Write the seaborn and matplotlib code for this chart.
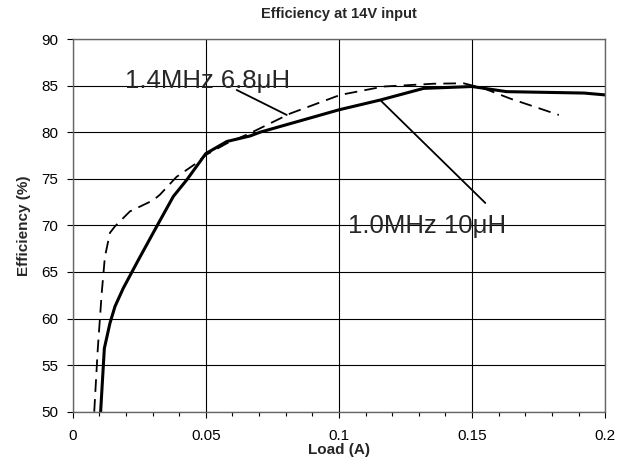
import numpy as np
import pandas as pd
import matplotlib
matplotlib.use("Agg")
import matplotlib.pyplot as plt
import seaborn as sns
from matplotlib.ticker import MultipleLocator

# 1.0MHz 10uH (solid)
load_10uh = [0.0105, 0.0119, 0.014, 0.0159, 0.019, 0.0247, 0.0316, 0.0378, 0.0429,
             0.05, 0.0579, 0.0667, 0.0704, 0.1, 0.1155, 0.1318, 0.15, 0.163, 0.192, 0.2]
eff_10uh = [50.0, 56.8, 59.5, 61.3, 63.25, 66.3, 69.9, 73.1, 74.9,
            77.7, 79.0, 79.6, 80.0, 82.4, 83.45, 84.7, 84.9, 84.35, 84.2, 84.0]

# 1.4MHz 6.8uH (dashed)
load_68uh = [0.0081, 0.0094, 0.0109, 0.0121, 0.014, 0.0159, 0.0215, 0.0303, 0.0328,
             0.039, 0.0466, 0.05, 0.0579, 0.0667, 0.0817, 0.1005, 0.1168, 0.1356,
             0.1468, 0.1544, 0.1644, 0.1826]
eff_68uh = [50.0, 56.6, 62.7, 66.6, 69.2, 69.9, 71.5, 72.7, 73.3,
            75.2, 76.7, 77.55, 78.8, 79.9, 82.0, 84.0, 84.9, 85.2,
            85.25, 84.7, 83.6, 81.85]

df_10 = pd.DataFrame({"load": load_10uh, "eff": eff_10uh})
df_68 = pd.DataFrame({"load": load_68uh, "eff": eff_68uh})

sns.set_style("ticks")
plt.rcParams["font.family"] = ["Liberation Sans", "DejaVu Sans"]

fig = plt.figure(figsize=(6.33, 4.66), dpi=100)
ax = fig.add_axes([0.1148, 0.1165, 0.8412, 0.7998])

sns.lineplot(data=df_10, x="load", y="eff", ax=ax, color="black", lw=2.2,
             sort=False, estimator=None)
sns.lineplot(data=df_68, x="load", y="eff", ax=ax, color="black", lw=1.3,
             sort=False, estimator=None, dashes=False, linestyle=(0, (7, 4)))

ax.set_xlim(0, 0.2)
ax.set_ylim(50, 90)
ax.set_xticks([0, 0.05, 0.1, 0.15, 0.2])
ax.set_xticklabels(["0", "0.05", "0.1", "0.15", "0.2"])
ax.xaxis.set_minor_locator(MultipleLocator(0.01))
ax.set_yticks(np.arange(50, 91, 5))
ax.grid(True, which="major", color="black", lw=0.8)
for s in ax.spines.values():
    s.set_visible(True)
    s.set_color("#666666")
    s.set_linewidth(1.0)
ax.tick_params(axis="both", which="major", direction="out", colors="black",
               labelsize=11, length=4.5, width=0.8, bottom=True, left=True, pad=6)
ax.tick_params(axis="x", which="major", pad=8)
ax.tick_params(axis="x", which="minor", direction="out", color="black",
               length=3, width=0.8, bottom=True)

ax.set_title("Efficiency at 14V input", fontsize=10.5, fontweight="bold", pad=15)
ax.set_xlabel("Load (A)", fontsize=11, fontweight="bold", labelpad=0)
ax.set_ylabel("Efficiency (%)", fontsize=11, fontweight="bold", labelpad=7)

# callouts
ax.plot([0.0616, 0.0804], [84.53, 81.85], color="black", lw=1.3)
ax.text(0.0197, 84.7, "1.4MHz 6.8\u03bcH", fontsize=18.5, va="baseline", ha="left")
ax.plot([0.1155, 0.155], [83.45, 72.4], color="black", lw=1.3)
ax.text(0.1036, 69.15, "1.0MHz 10\u03bcH", fontsize=18.5, va="baseline", ha="left")

fig.savefig("out.png", dpi=100)
